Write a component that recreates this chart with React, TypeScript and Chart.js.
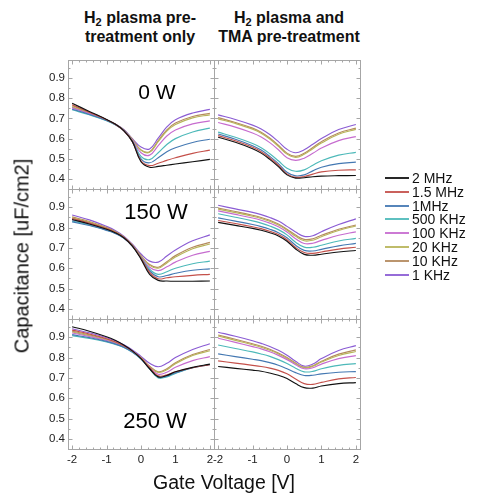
import React, { useEffect, useRef } from 'react';
import { Chart, registerables } from 'chart.js';

Chart.register(...registerables);

const gateVoltage = [-2, -1.5, -1, -0.75, -0.5, -0.25, 0, 0.25, 0.5, 0.75, 1, 1.5, 2];
const frequencies = ['2 MHz', '1.5 MHz', '1MHz', '500 KHz', '100 KHz', '20 KHz', '10 KHz', '1 KHz'];
const colors = ['#111111', '#c4504a', '#4478b2', '#4db9b9', '#c66ccf', '#b8b55a', '#b48a5e', '#8b5cd4'];
const yTicks = [0.4, 0.5, 0.6, 0.7, 0.8, 0.9];
const xTicks = [-2, -1, 0, 1, 2];
const panelLabels = ['0 W', '150 W', '250 W'];
const columnTitles = [['H', '2', ' plasma pre-', 'treatment only'], ['H', '2', ' plasma and', 'TMA pre-treatment']];

// series order follows `frequencies`
const h2Only0W = [
  [0.775, 0.735, 0.695, 0.672, 0.640, 0.585, 0.485, 0.458, 0.462, 0.468, 0.474, 0.485, 0.497],
  [0.768, 0.731, 0.694, 0.671, 0.639, 0.585, 0.490, 0.466, 0.478, 0.492, 0.505, 0.527, 0.543],
  [0.746, 0.720, 0.690, 0.670, 0.639, 0.586, 0.500, 0.480, 0.505, 0.535, 0.555, 0.581, 0.597],
  [0.743, 0.718, 0.689, 0.669, 0.640, 0.588, 0.512, 0.496, 0.530, 0.571, 0.600, 0.633, 0.652],
  [0.752, 0.724, 0.692, 0.670, 0.641, 0.592, 0.530, 0.518, 0.565, 0.613, 0.643, 0.673, 0.688],
  [0.758, 0.727, 0.693, 0.671, 0.642, 0.595, 0.542, 0.532, 0.585, 0.637, 0.670, 0.703, 0.718],
  [0.763, 0.730, 0.694, 0.672, 0.643, 0.596, 0.544, 0.535, 0.590, 0.643, 0.677, 0.710, 0.725],
  [0.755, 0.726, 0.694, 0.673, 0.645, 0.600, 0.558, 0.549, 0.602, 0.658, 0.694, 0.727, 0.745],
];
const h2Tma0W = [
  [0.607, 0.582, 0.550, 0.528, 0.497, 0.461, 0.420, 0.404, 0.406, 0.411, 0.414, 0.416, 0.417],
  [0.615, 0.589, 0.557, 0.535, 0.504, 0.468, 0.425, 0.408, 0.412, 0.424, 0.435, 0.443, 0.445],
  [0.623, 0.597, 0.565, 0.543, 0.512, 0.476, 0.433, 0.415, 0.420, 0.440, 0.458, 0.476, 0.483],
  [0.632, 0.607, 0.576, 0.555, 0.525, 0.490, 0.453, 0.438, 0.445, 0.468, 0.490, 0.518, 0.532],
  [0.680, 0.657, 0.628, 0.608, 0.580, 0.545, 0.505, 0.492, 0.503, 0.527, 0.553, 0.590, 0.610],
  [0.698, 0.675, 0.647, 0.627, 0.598, 0.562, 0.523, 0.507, 0.522, 0.550, 0.578, 0.622, 0.646],
  [0.704, 0.680, 0.652, 0.632, 0.603, 0.567, 0.528, 0.512, 0.527, 0.556, 0.585, 0.628, 0.652],
  [0.718, 0.695, 0.667, 0.648, 0.620, 0.585, 0.547, 0.530, 0.545, 0.572, 0.600, 0.645, 0.670],
];
const h2Only150W = [
  [0.840, 0.818, 0.792, 0.775, 0.750, 0.709, 0.645, 0.570, 0.540, 0.537, 0.536, 0.536, 0.537],
  [0.845, 0.822, 0.795, 0.777, 0.751, 0.710, 0.650, 0.580, 0.548, 0.553, 0.558, 0.565, 0.570],
  [0.828, 0.810, 0.786, 0.771, 0.748, 0.709, 0.649, 0.587, 0.558, 0.564, 0.575, 0.590, 0.597],
  [0.833, 0.813, 0.788, 0.772, 0.748, 0.709, 0.652, 0.595, 0.570, 0.583, 0.600, 0.622, 0.635],
  [0.838, 0.817, 0.791, 0.774, 0.749, 0.710, 0.655, 0.605, 0.588, 0.607, 0.630, 0.664, 0.683],
  [0.848, 0.826, 0.797, 0.779, 0.752, 0.712, 0.659, 0.614, 0.600, 0.626, 0.655, 0.696, 0.719],
  [0.853, 0.830, 0.800, 0.781, 0.754, 0.714, 0.662, 0.618, 0.605, 0.632, 0.662, 0.703, 0.727],
  [0.862, 0.838, 0.806, 0.786, 0.758, 0.718, 0.670, 0.635, 0.630, 0.660, 0.690, 0.735, 0.764],
];
const h2Tma150W = [
  [0.826, 0.811, 0.796, 0.787, 0.775, 0.759, 0.733, 0.695, 0.668, 0.664, 0.669, 0.680, 0.687],
  [0.835, 0.820, 0.804, 0.795, 0.782, 0.766, 0.740, 0.702, 0.677, 0.673, 0.680, 0.694, 0.703],
  [0.848, 0.832, 0.815, 0.805, 0.792, 0.775, 0.750, 0.713, 0.688, 0.685, 0.693, 0.710, 0.722],
  [0.868, 0.851, 0.833, 0.822, 0.808, 0.790, 0.764, 0.728, 0.704, 0.703, 0.713, 0.734, 0.747],
  [0.882, 0.865, 0.847, 0.836, 0.822, 0.804, 0.778, 0.745, 0.722, 0.723, 0.737, 0.762, 0.779],
  [0.891, 0.874, 0.856, 0.845, 0.831, 0.813, 0.787, 0.757, 0.735, 0.738, 0.755, 0.786, 0.808],
  [0.896, 0.879, 0.861, 0.850, 0.836, 0.818, 0.792, 0.763, 0.742, 0.745, 0.762, 0.792, 0.813],
  [0.910, 0.892, 0.875, 0.864, 0.850, 0.832, 0.806, 0.778, 0.757, 0.760, 0.780, 0.815, 0.843],
];
const h2Only250W = [
  [0.952, 0.930, 0.903, 0.885, 0.862, 0.833, 0.795, 0.745, 0.705, 0.712, 0.730, 0.752, 0.768],
  [0.935, 0.916, 0.893, 0.878, 0.858, 0.832, 0.797, 0.750, 0.710, 0.715, 0.730, 0.750, 0.765],
  [0.913, 0.898, 0.880, 0.867, 0.851, 0.827, 0.794, 0.746, 0.705, 0.709, 0.725, 0.750, 0.765],
  [0.908, 0.894, 0.877, 0.865, 0.850, 0.826, 0.793, 0.745, 0.700, 0.705, 0.722, 0.750, 0.767],
  [0.921, 0.904, 0.884, 0.870, 0.853, 0.829, 0.796, 0.752, 0.718, 0.728, 0.752, 0.785, 0.805],
  [0.926, 0.908, 0.887, 0.873, 0.855, 0.830, 0.798, 0.756, 0.727, 0.740, 0.770, 0.810, 0.834],
  [0.930, 0.912, 0.890, 0.875, 0.856, 0.831, 0.799, 0.758, 0.730, 0.745, 0.775, 0.815, 0.840],
  [0.942, 0.922, 0.898, 0.883, 0.863, 0.838, 0.806, 0.772, 0.755, 0.772, 0.800, 0.840, 0.868],
];
const h2Tma250W = [
  [0.756, 0.747, 0.738, 0.733, 0.724, 0.713, 0.697, 0.672, 0.652, 0.650, 0.660, 0.672, 0.677],
  [0.784, 0.773, 0.762, 0.756, 0.748, 0.737, 0.720, 0.695, 0.672, 0.668, 0.678, 0.695, 0.702],
  [0.818, 0.805, 0.792, 0.785, 0.775, 0.762, 0.745, 0.726, 0.712, 0.713, 0.720, 0.728, 0.731],
  [0.862, 0.845, 0.828, 0.818, 0.806, 0.790, 0.771, 0.748, 0.730, 0.732, 0.745, 0.762, 0.770],
  [0.895, 0.875, 0.854, 0.843, 0.829, 0.811, 0.790, 0.765, 0.745, 0.750, 0.768, 0.795, 0.810],
  [0.906, 0.885, 0.863, 0.851, 0.836, 0.818, 0.796, 0.770, 0.750, 0.757, 0.778, 0.810, 0.830],
  [0.911, 0.890, 0.868, 0.856, 0.841, 0.822, 0.800, 0.773, 0.752, 0.760, 0.782, 0.817, 0.838],
  [0.925, 0.905, 0.883, 0.870, 0.855, 0.836, 0.812, 0.782, 0.758, 0.768, 0.795, 0.835, 0.859],
];

const panels = [
  [h2Only0W, h2Tma0W],
  [h2Only150W, h2Tma150W],
  [h2Only250W, h2Tma250W],
];

const FONT = '"Liberation Sans", Arial, Helvetica, sans-serif';
const COL_L = [68, 214];
const COL_R = [214, 360];
const ROW_T = [60, 189, 319];
const ROW_B = [189, 319, 449];

const framePlugin = {
  id: 'frame',
  beforeDatasetsDraw(chart: any) {
    const { ctx, chartArea: a, scales } = chart;
    ctx.save();
    ctx.strokeStyle = '#a6a6a6';
    ctx.lineWidth = 1;
    const L = Math.round(a.left) + 0.5;
    const T = Math.round(a.top) + 0.5;
    const R = Math.round(a.right) + 0.5;
    const B = Math.round(a.bottom) + 0.5;
    ctx.strokeRect(L, T, R - L, B - T);
    ctx.beginPath();
    for (let k = -10; k <= 10; k++) {
      const v = k * 0.2;
      const px = Math.round(scales.x.getPixelForValue(v)) + 0.5;
      const len = k % 5 === 0 ? 4 : 2;
      ctx.moveTo(px, B); ctx.lineTo(px, B - len);
      ctx.moveTo(px, T); ctx.lineTo(px, T + len);
    }
    for (let k = 8; k <= 19; k++) {
      const v = k * 0.05;
      const py = Math.round(scales.y.getPixelForValue(v)) + 0.5;
      const len = k % 2 === 0 ? 4 : 2;
      ctx.moveTo(L, py); ctx.lineTo(L + len, py);
      ctx.moveTo(R, py); ctx.lineTo(R - len, py);
    }
    ctx.stroke();
    ctx.restore();
  },
};

function Panel({ series, row, col }: { series: number[][]; row: number; col: number }) {
  const ref = useRef<HTMLCanvasElement>(null);
  const showY = col === 0;
  const showX = row === 2;
  const aL = COL_L[col], aR = COL_R[col], aT = ROW_T[row], aB = ROW_B[row];
  const padL = showY ? 40 : 12;
  const padR = 12;
  const padT = 6;
  const padB = showX ? 22 : 6;
  const cl = aL - padL;
  const ct = aT - padT;
  const cw = aR - aL + padL + padR;
  const ch = aB - aT + padT + padB;

  useEffect(() => {
    if (!ref.current) return;
    const chart = new Chart(ref.current, {
      type: 'line',
      data: {
        datasets: series.map((vals, i) => ({
          label: frequencies[i],
          data: gateVoltage.map((x, j) => ({ x, y: vals[j] })),
          borderColor: colors[i],
          backgroundColor: colors[i],
          borderWidth: 1.15,
          pointRadius: 0,
          tension: 0.4,
          fill: false,
        })),
      },
      options: {
        animation: false,
        responsive: false,
        devicePixelRatio: 1,
        events: [],
        layout: {
          padding: { left: showY ? 0 : padL, right: padR, top: padT, bottom: showX ? 0 : padB },
        },
        plugins: { legend: { display: false }, tooltip: { enabled: false } },
        scales: {
          x: {
            type: 'linear',
            min: -2.12,
            max: 2.12,
            display: showX,
            grid: { display: false, drawTicks: false },
            border: { display: false },
            ticks: {
              autoSkip: false,
              maxRotation: 0,
              padding: 4,
              color: '#222',
              font: { family: FONT, size: 11.5 },
              callback: (v: any) => String(v),
            },
            afterBuildTicks: (s: any) => { s.ticks = xTicks.map((v) => ({ value: v })); },
            afterFit: (s: any) => {
              if (showX) { s.height = padB; }
              s.paddingLeft = 0; s.paddingRight = 0;
            },
          },
          y: {
            type: 'linear',
            min: 0.35,
            max: 0.99,
            display: showY,
            grid: { display: false, drawTicks: false },
            border: { display: false },
            ticks: {
              autoSkip: false,
              padding: 3,
              color: '#222',
              font: { family: FONT, size: 11.5 },
              callback: (v: any) => Number(v).toFixed(1),
            },
            afterBuildTicks: (s: any) => { s.ticks = yTicks.map((v) => ({ value: v })); },
            afterFit: (s: any) => {
              if (showY) { s.width = padL; }
              s.paddingTop = 0; s.paddingBottom = 0;
            },
          },
        },
      },
      plugins: [framePlugin],
    } as any);
    return () => chart.destroy();
  }, []);

  return (
    <canvas
      ref={ref}
      width={cw}
      height={ch}
      style={{ position: 'absolute', left: cl, top: ct, width: cw, height: ch }}
    />
  );
}

export default function App() {
  const labelCenters = [
    { x: 157, y: 92 },
    { x: 156, y: 212 },
    { x: 155, y: 421 },
  ];
  return (
    <div style={{ position: 'absolute', left: 0, top: 0, width: 477, height: 494, background: '#fff', fontFamily: FONT, color: '#111', overflow: 'hidden' }}>
      {columnTitles.map((t, i) => (
        <div
          key={i}
          style={{
            position: 'absolute',
            left: (i === 0 ? 140 : 289) - 90,
            width: 180,
            top: 8.5,
            textAlign: 'center',
            fontWeight: 'bold',
            fontSize: 16,
            lineHeight: '18.4px',
            whiteSpace: 'nowrap',
          }}
        >
          <div>
            {t[0]}
            <span style={{ fontSize: 11, position: 'relative', top: 3 }}>{t[1]}</span>
            {t[2]}
          </div>
          <div>{t[3]}</div>
        </div>
      ))}
      {panels.map((rowPanels, r) =>
        rowPanels.map((series, c) => <Panel key={`${r}-${c}`} series={series} row={r} col={c} />)
      )}
      {panelLabels.map((lab, i) => (
        <div
          key={lab}
          style={{
            position: 'absolute',
            left: labelCenters[i].x,
            top: labelCenters[i].y,
            transform: 'translate(-50%, -50%)',
            fontSize: i === 0 ? 21 : 22,
            whiteSpace: 'nowrap',
            color: '#000',
          }}
        >
          {lab}
        </div>
      ))}
      <div
        style={{
          position: 'absolute',
          left: 22,
          top: 256,
          transform: 'translate(-50%, -50%) rotate(-90deg)',
          fontSize: 20,
          whiteSpace: 'nowrap',
          color: '#111',
        }}
      >
        Capacitance [uF/cm2]
      </div>
      <div
        style={{
          position: 'absolute',
          left: 224,
          top: 482,
          transform: 'translate(-50%, -50%)',
          fontSize: 19.5,
          whiteSpace: 'nowrap',
          color: '#111',
        }}
      >
        Gate Voltage [V]
      </div>
      {frequencies.map((f, i) => {
        const yc = Math.round(178 + 13.8 * i);
        return (
          <React.Fragment key={f}>
            <div style={{ position: 'absolute', left: 385, top: yc - 1, width: 24, height: 2, background: colors[i], opacity: 0.9 }} />
            <div style={{ position: 'absolute', left: 412, top: yc - 8, height: 16, lineHeight: '16px', fontSize: 14, whiteSpace: 'nowrap' }}>{f}</div>
          </React.Fragment>
        );
      })}
    </div>
  );
}
